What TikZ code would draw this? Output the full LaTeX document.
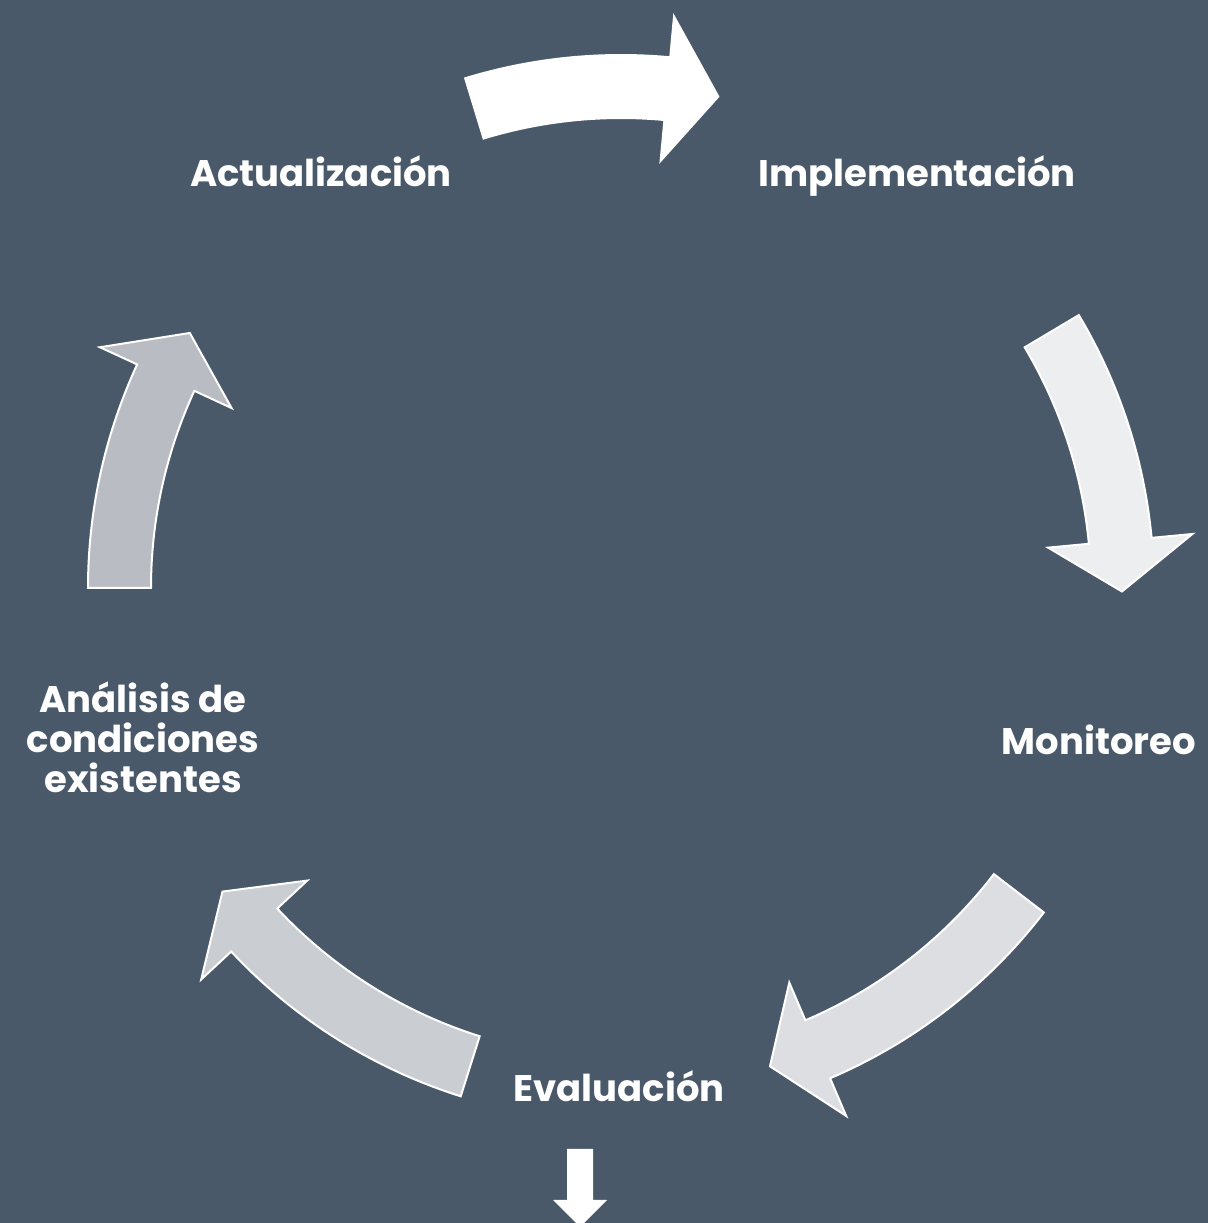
\documentclass[tikz,border=0pt]{standalone}
\usepackage{fontspec}
\setmainfont{Poppins}
\usetikzlibrary{calc}

\definecolor{slate}{HTML}{4A5969}
\definecolor{shadeA}{HTML}{FFFFFF}
\definecolor{shadeB}{HTML}{EDEEF0}
\definecolor{shadeC}{HTML}{DCDEE1}
\definecolor{shadeD}{HTML}{CACDD2}
\definecolor{shadeE}{HTML}{B9BDC3}

\tikzset{
  phase/.style={text=white, font=\bfseries\fontsize{18.5}{20}\selectfont, align=center, anchor=base},
  cyclearrow/.style={draw=white, line width=1pt, line join=miter},
}
% curved block arrow on the cycle: fill, tail angle, neck angle, tip angle
\newcommand{\cyclearrow}[4]{%
  \filldraw[cyclearrow, fill=#1] ($(c)+(#2:533)$) arc[start angle=#2, end angle=#3, radius=533]
    -- ($(c)+(#3:574)$) -- ($(c)+(#4:501)$) -- ($(c)+(#3:429)$) -- ($(c)+(#3:470)$)
    arc[start angle=#3, end angle=#2, radius=470] -- cycle;}

\begin{document}
\begin{tikzpicture}[x=0.5pt, y=0.5pt]
    \fill[slate] (0,0) rectangle (1208,1223);
    \useasboundingbox (0,0) rectangle (1208,1223);
    \coordinate (c) at (621,635);

    \node[phase] (impl) at (917,1036) {Implementación};
    \node[phase] (mon) at (1099,468) {Monitoreo};
    \node[phase] (eval) at (619,121) {Evaluación};
    \node[phase] (anal) at (143,430) {Análisis de\\condiciones\\existentes};
    \node[phase] (act) at (321,1036) {Actualización};

    \cyclearrow{shadeA}{107}{84.7}{78.8}
    \cyclearrow{shadeB}{30.8}{5.4}{-0.4}
    \cyclearrow{shadeC}{-37.5}{-66.9}{-72.7}
    \cyclearrow{shadeD}{-107.5}{-137}{-142.7}
    \cyclearrow{shadeE}{180}{155.2}{149.4}

    % arrow out of the cycle
    \fill[white] (567,74) -- (593,74) -- (593,23) -- (607,23) -- (580,-4)
        -- (553,23) -- (567,23) -- cycle;
\end{tikzpicture}
\end{document}
